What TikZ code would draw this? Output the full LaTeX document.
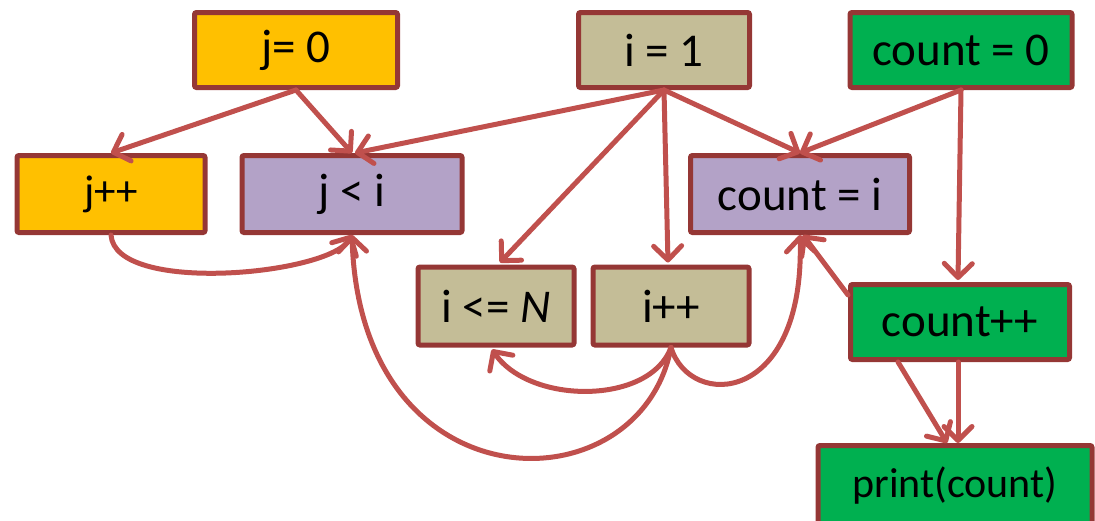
\documentclass[tikz,border=0pt]{standalone}
\usepackage{fontspec}
\setmainfont{Carlito}
\usetikzlibrary{arrows.meta,calc}
\definecolor{borderc}{HTML}{953735}
\definecolor{arrowc}{HTML}{C0504D}
\definecolor{orangec}{HTML}{FFC000}
\definecolor{tanc}{HTML}{C4BD97}
\definecolor{purplec}{HTML}{B3A2C7}
\definecolor{greenc}{HTML}{00B050}
\tikzset{
  box/.style={draw=borderc, line width=5pt, rounded corners=2pt, inner sep=0pt,
    font=\fontsize{47}{52}\selectfont},
  conn/.style={draw=arrowc, line width=5pt, line cap=round,
    -{Straight Barb[length=14pt,width=28pt,line cap=round,round]}}
}
\begin{document}
\begin{tikzpicture}[x=1pt,y=-1pt]
\useasboundingbox (0,0) rectangle (1095,520);
% nodes
\node[box, fill=orangec, minimum width=203pt, minimum height=75pt] (j0) at (296,50) {j= 0};
\node[box, fill=tanc, minimum width=171pt, minimum height=75pt] (i1) at (664,50) {i = 1};
\node[box, fill=greenc, minimum width=222pt, minimum height=75pt] (c0) at (961,50) {count = 0};
\node[box, fill=orangec, minimum width=188pt, minimum height=77pt, font=\fontsize{43}{48}\selectfont] (jpp) at (111,194) {j++};
\node[box, fill=purplec, minimum width=220pt, minimum height=77pt] (jlt) at (352,194) {j < i};
\node[box, fill=purplec, minimum width=219pt, minimum height=77pt] (ci) at (800,194) {count = i};
\node[box, fill=tanc, minimum width=156pt, minimum height=78pt] (ile) at (496,306) {i <= \textit{N}};
\node[box, fill=tanc, minimum width=156pt, minimum height=78pt] (ipp) at (671,306) {i++};
\node[box, fill=greenc, minimum width=219pt, minimum height=75pt] (cpp) at (960,322) {count++};
\node[box, fill=greenc, minimum width=274pt, minimum height=80pt, anchor=north, font=\fontsize{42}{48}\selectfont] (pr) at (955,443) {print(count)};
% connectors
\draw[conn] (j0.south) -- (jpp.north);
\draw[conn] (j0.south) -- (jlt.north);
\draw[conn] (i1.south) -- ($(jlt.north)+(3,0)$);
\draw[conn] (i1.south) -- ($(ile.north)+(4,-2)$);
\draw[conn] (i1.south) -- ($(ipp.north)+(-3,-2)$);
\draw[conn] (i1.south) -- (ci.north);
\draw[conn] (c0.south) -- (ci.north);
\draw[conn] (c0.south) -- ($(cpp.north)+(-2,-2)$);
\draw[conn] (jpp.south) .. controls (115,295) and (330,275) .. (jlt.south);
\draw[conn] (ipp.south) .. controls (650,405) and (530,405) .. ($(ile.south)+(-4,2)$);
\draw[conn] (ipp.south) .. controls (640,510) and (360,510) .. (jlt.south);
\draw[conn] (ipp.south) .. controls (690,410) and (805,405) .. (ci.south);
\draw[conn] ($(cpp.north west)+(0,13)$) -- ($(ci.south)+(3,0)$);
\draw[conn] ($(cpp.south)+(-2,0)$) -- ($(pr.north)+(3,0)$);
\draw[conn] ($(cpp.south)+(-62,0)$) -- ($(pr.north)+(-8,0)$);
\end{tikzpicture}
\end{document}
